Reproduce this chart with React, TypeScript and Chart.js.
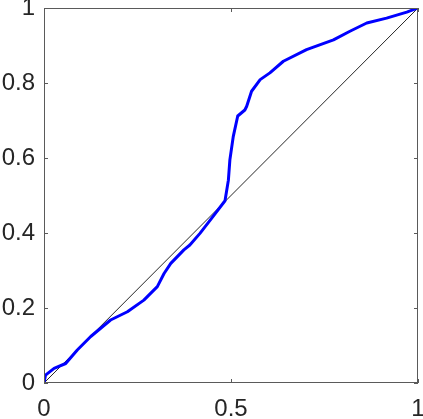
import React, { useEffect, useRef } from "react";
import { Chart, registerables } from "chart.js";

Chart.register(...registerables);

const curveX = [0, 0.004, 0.027, 0.058, 0.089, 0.125, 0.178, 0.223, 0.267, 0.303, 0.321, 0.339, 0.374, 0.39, 0.417, 0.448, 0.484, 0.493, 0.497, 0.506, 0.518, 0.537, 0.542, 0.555, 0.578, 0.604, 0.64, 0.702, 0.774, 0.818, 0.863, 0.916, 0.97, 1];
const curveY = [0, 0.021, 0.039, 0.052, 0.088, 0.124, 0.168, 0.19, 0.221, 0.257, 0.292, 0.319, 0.355, 0.368, 0.399, 0.439, 0.486, 0.541, 0.595, 0.657, 0.712, 0.728, 0.738, 0.778, 0.809, 0.827, 0.858, 0.889, 0.915, 0.938, 0.96, 0.973, 0.989, 1];
const diagX = [0, 1];
const diagY = [0, 1];
const xTicks = [0, 0.5, 1];
const yTicks = [0, 0.2, 0.4, 0.6, 0.8, 1];

const boxPlugin = {
  id: "boxTicks",
  afterDatasetsDraw(chart: any) {
    const { ctx, chartArea } = chart;
    const xs = chart.scales.x;
    const ys = chart.scales.y;
    ctx.save();
    ctx.strokeStyle = "#5a5a5a";
    ctx.lineWidth = 1;
    ctx.strokeRect(chartArea.left + 0.5, chartArea.top + 0.5, chartArea.right - chartArea.left - 1, chartArea.bottom - chartArea.top - 1);
    const len = 4;
    ctx.beginPath();
    yTicks.forEach((v) => {
      const p = Math.round(ys.getPixelForValue(v)) + 0.5;
      ctx.moveTo(chartArea.left, p);
      ctx.lineTo(chartArea.left + len, p);
      ctx.moveTo(chartArea.right, p);
      ctx.lineTo(chartArea.right - len, p);
    });
    xTicks.forEach((v) => {
      const p = Math.round(xs.getPixelForValue(v)) + 0.5;
      ctx.moveTo(p, chartArea.bottom);
      ctx.lineTo(p, chartArea.bottom - len);
      ctx.moveTo(p, chartArea.top);
      ctx.lineTo(p, chartArea.top + len);
    });
    ctx.stroke();
    ctx.restore();
  },
};

export default function App() {
  const ref = useRef<HTMLCanvasElement>(null);
  useEffect(() => {
    document.body.style.margin = "0";
    const canvas = ref.current!;
    const chart = new Chart(canvas, {
      type: "scatter",
      data: {
        datasets: [
          {
            data: diagX.map((x, i) => ({ x, y: diagY[i] })),
            showLine: true,
            borderColor: "#262626",
            borderWidth: 1,
            pointRadius: 0,
            order: 2,
          },
          {
            data: curveX.map((x, i) => ({ x, y: curveY[i] })),
            showLine: true,
            borderColor: "#0000ff",
            borderWidth: 3,
            pointRadius: 0,
            tension: 0,
            borderJoinStyle: "round",
            order: 1,
          },
        ],
      },
      options: {
        responsive: false,
        animation: false,
        layout: { padding: { top: 8, right: 5, left: 0, bottom: 0 } },
        plugins: { legend: { display: false }, tooltip: { enabled: false } },
        scales: {
          x: {
            type: "linear",
            min: 0,
            max: 1,
            afterBuildTicks: (s: any) => {
              s.ticks = xTicks.map((v) => ({ value: v }));
            },
            afterFit: (s: any) => {
              s.height = 36;
              s.paddingLeft = 0;
              s.paddingRight = 0;
            },
            grid: { display: false, drawTicks: false },
            border: { display: false },
            ticks: {
              color: "#262626",
              padding: 12,
              font: { family: "Liberation Sans", size: 24 },
              maxRotation: 0,
              callback: (v: any) => String(v),
            },
          },
          y: {
            type: "linear",
            min: 0,
            max: 1,
            afterBuildTicks: (s: any) => {
              s.ticks = yTicks.map((v) => ({ value: v }));
            },
            afterFit: (s: any) => {
              s.width = 44;
              s.paddingTop = 0;
              s.paddingBottom = 0;
            },
            grid: { display: false, drawTicks: false },
            border: { display: false },
            ticks: {
              color: "#262626",
              padding: 9,
              font: { family: "Liberation Sans", size: 24 },
              callback: (v: any) => String(v),
            },
          },
        },
      },
      plugins: [boxPlugin],
    });
    return () => chart.destroy();
  }, []);
  return <canvas ref={ref} width={423} height={419} style={{ display: "block" }} />;
}
